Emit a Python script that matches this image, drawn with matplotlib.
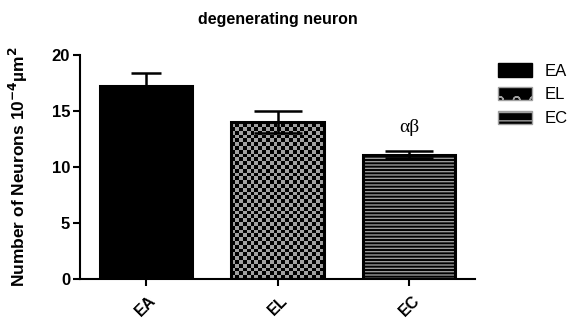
import numpy as np
import matplotlib
matplotlib.use("Agg")
import matplotlib.pyplot as plt
from matplotlib.patches import Patch
from matplotlib.colors import ListedColormap

groups = ["EA", "EL", "EC"]
means = [17.2, 14.0, 11.1]
errors = [1.2, 1.0, 0.3]
capsizes = [11, 17, 17]

plt.rcParams['font.family'] = ['Liberation Sans', 'DejaVu Sans']
plt.rcParams['mathtext.default'] = 'bf'
plt.rcParams['hatch.linewidth'] = 1.0

fig = plt.figure(figsize=(5.74, 3.2), dpi=100)
ax = fig.add_axes([0.139, 0.128, 0.689, 0.70])

x = np.arange(len(groups))
bars = ax.bar(x, means, width=0.7, color=['black', '#a0a0a0', 'black'],
              edgecolor=['black', 'black', '#9a9a9a'], linewidth=0, zorder=2)
bars[2].set_hatch('-----')

# checkerboard texture for EL, clipped to the bar
iy, ix = np.indices((59, 104))
tex = (ix + iy) % 2
im = ax.imshow(tex, extent=(-0.5, 2.5, 0, 20), aspect='auto', origin='lower',
               interpolation='nearest', cmap=ListedColormap(['#a0a0a0', 'black']),
               zorder=2.2)
im.set_clip_path(bars[1])

# outlines
ax.bar(x, means, width=0.7, fill=False, edgecolor='black', linewidth=2.2, zorder=3)

for i in range(len(groups)):
    ax.errorbar(x[i], means[i], yerr=errors[i], fmt='none', ecolor='black',
                elinewidth=1.8, capsize=capsizes[i], capthick=1.8, zorder=4)

ax.text(x[2], 13.5, "αβ", ha='center', va='center', fontsize=14,
        family=['Liberation Serif', 'DejaVu Serif'])

ax.set_xlim(-0.5, 2.5)
ax.set_ylim(0, 20)
ax.set_yticks([0, 5, 10, 15, 20])
ax.set_xticks(x)
ax.set_xticklabels(groups, rotation=45, fontweight='bold', fontsize=11.5)
for lab in ax.get_yticklabels():
    lab.set_fontweight('bold')
    lab.set_fontsize(12)
for s in ['top', 'right']:
    ax.spines[s].set_visible(False)
for s in ['left', 'bottom']:
    ax.spines[s].set_linewidth(1.5)
ax.tick_params(axis='both', width=1.5, length=5, direction='out')
ax.tick_params(axis='y', pad=2)
ax.tick_params(axis='x', pad=5)

ax.set_ylabel("Number of Neurons 10$^{-4}$µm$^{2}$", fontweight='bold', fontsize=12.5)
ax.yaxis.set_label_coords(-0.125, 0.5)
ax.set_title("degenerating neuron", fontweight='bold', fontsize=11.5, pad=22)

handles = [Patch(facecolor='black', edgecolor='black'),
           Patch(facecolor='black', edgecolor='#a0a0a0', hatch='o'),
           Patch(facecolor='black', edgecolor='#a0a0a0', hatch='--')]
leg = ax.legend(handles, groups, loc='upper left', bbox_to_anchor=(1.02, 1.03),
                frameon=False, fontsize=12, handlelength=2.0, handleheight=0.85,
                labelspacing=0.5, handletextpad=0.8)

fig.savefig("out.png", dpi=100)
